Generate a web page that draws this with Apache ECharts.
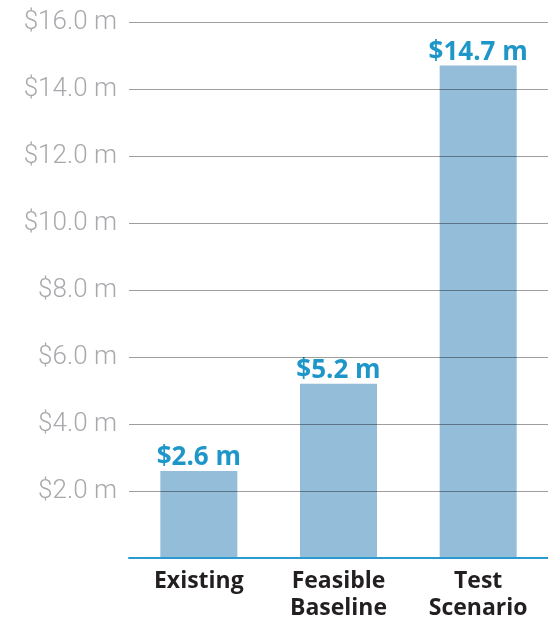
<!DOCTYPE html>
<html>
<head>
<meta charset="utf-8">
<script src="https://cdn.jsdelivr.net/npm/echarts@6/dist/echarts.min.js"></script>
<style>
  html, body { margin: 0; padding: 0; background: #fff; }
  #chart { width: 548px; height: 620px; }
</style>
</head>
<body>
<div id="chart"></div>
<script>
// data
const categories = ['Existing', 'Feasible\nBaseline', 'Test\nScenario'];
const values = [2.6, 5.2, 14.7];
const yMin = 0, yMax = 16, yStep = 2;

const chart = echarts.init(document.getElementById('chart'));

const option = {
  animation: false,
  grid: { left: 129, right: 0, top: 22, bottom: 62, containLabel: false, outerBoundsMode: 'none' },
  xAxis: {
    type: 'category',
    data: categories,
    z: 5,
    axisTick: { show: false },
    axisLine: { lineStyle: { color: '#2a9ad0', width: 2 } },
    axisLabel: {
      color: '#231f20',
      fontFamily: 'Open Sans',
      fontWeight: 'bold',
      fontSize: 23,
      lineHeight: 27,
      margin: 10
    }
  },
  yAxis: {
    type: 'value',
    min: yMin,
    max: yMax,
    interval: yStep,
    z: 3,
    axisLine: { show: false },
    axisTick: { show: false },
    splitLine: { showMinLine: false, lineStyle: { color: 'rgba(0,0,0,0.38)', width: 1 } },
    axisLabel: {
      color: '#a7a9ac',
      fontFamily: 'Roboto',
      fontWeight: 300,
      fontSize: 26,
      margin: 12,
      formatter: v => v === 0 ? '' : '$' + v.toFixed(1) + ' m'
    }
  },
  series: [{
    type: 'bar',
    data: values,
    barWidth: 77,
    itemStyle: { color: '#93bdd9' },
    label: {
      show: true,
      position: 'top',
      distance: 0,
      color: '#1e96c8',
      fontFamily: 'Open Sans',
      fontWeight: 'bold',
      fontSize: 26,
      formatter: p => '$' + p.value.toFixed(1) + ' m'
    }
  }]
};

chart.setOption(option);
</script>
</body>
</html>
